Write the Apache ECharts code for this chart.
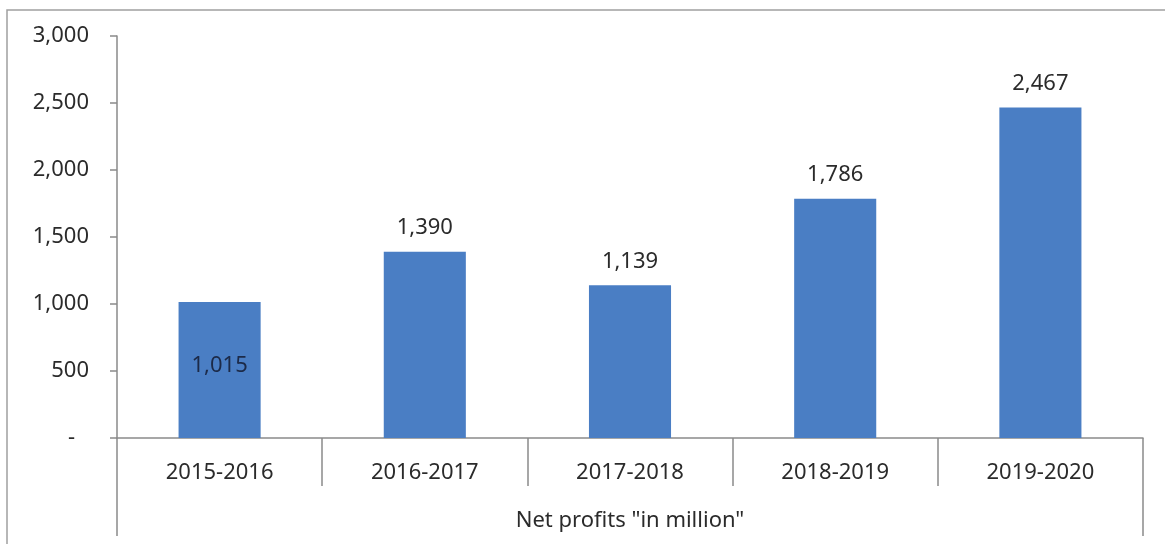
<!DOCTYPE html>
<html>
<head>
<meta charset="utf-8">
<script src="https://cdn.jsdelivr.net/npm/echarts@6/dist/echarts.min.js"></script>
<style>
  html, body { margin: 0; padding: 0; background: #fff; }
  #chart { width: 1165px; height: 544px; }
</style>
</head>
<body>
<div id="chart"></div>
<script>
const categories = ['2015-2016', '2016-2017', '2017-2018', '2018-2019', '2019-2020'];
const netProfits = [1015, 1390, 1139, 1786, 2467];
const axisTitle = ['Net profits "in million"'];
const yMin = 0, yMax = 3000, yStep = 500;

const FONT = 'Noto Sans';
const TEXT = '#2b2b2b';
const AXIS = '#8a8a8a';
const BAR = '#4a7ec4';

const chart = echarts.init(document.getElementById('chart'), null, { renderer: 'canvas' });

const seriesData = netProfits.map((v, i) => {
  if (i === 0) {
    return { value: v, label: { position: 'inside', offset: [0, -4], color: '#1c2a48' } };
  }
  return v;
});

chart.setOption({
  animation: false,
  backgroundColor: '#fff',
  textStyle: { fontFamily: FONT },
  graphic: [{
    type: 'rect',
    shape: { x: 7, y: 10, width: 1300, height: 700 },
    style: { fill: 'none', stroke: '#a0a0a0', lineWidth: 1.5 },
    silent: true
  }],
  grid: { left: 117, right: 22, top: 36, bottom: 106, containLabel: false },
  xAxis: [{
    type: 'category',
    data: categories,
    position: 'bottom',
    boundaryGap: true,
    axisLine: { show: true, onZero: false, lineStyle: { color: AXIS, width: 1.5 } },
    axisTick: { show: true, interval: 0, length: 48, lineStyle: { color: AXIS, width: 1.5 } },
    axisLabel: { interval: 0, margin: 24, color: TEXT, fontSize: 22, fontFamily: FONT },
    splitLine: { show: false }
  }, {
    type: 'category',
    data: axisTitle,
    position: 'bottom',
    boundaryGap: true,
    axisLine: { show: false, onZero: false },
    axisTick: { show: true, interval: 0, length: 98, lineStyle: { color: AXIS, width: 1.5 } },
    axisLabel: { interval: 0, margin: 72, color: TEXT, fontSize: 22, fontFamily: FONT },
    splitLine: { show: false }
  }],
  yAxis: {
    type: 'value',
    min: yMin,
    max: yMax,
    interval: yStep,
    axisLine: { show: true, lineStyle: { color: AXIS, width: 1.5 } },
    axisTick: { show: true, length: 7, lineStyle: { color: AXIS, width: 1.5 } },
    splitLine: { show: false },
    axisLabel: {
      margin: 28,
      color: TEXT,
      fontSize: 22,
      fontFamily: FONT,
      formatter: v => v === 0 ? '{d|-}' : v.toLocaleString('en-US'),
      rich: { d: { fontSize: 22, fontFamily: FONT, color: TEXT, padding: [0, 14, 0, 0] } }
    }
  },
  series: [{
    type: 'bar',
    xAxisIndex: 0,
    data: seriesData,
    barWidth: '40%',
    itemStyle: { color: BAR },
    label: {
      show: true,
      position: 'top',
      distance: 13,
      color: TEXT,
      fontSize: 22,
      fontFamily: FONT,
      formatter: p => p.value.toLocaleString('en-US')
    }
  }]
});
</script>
</body>
</html>
